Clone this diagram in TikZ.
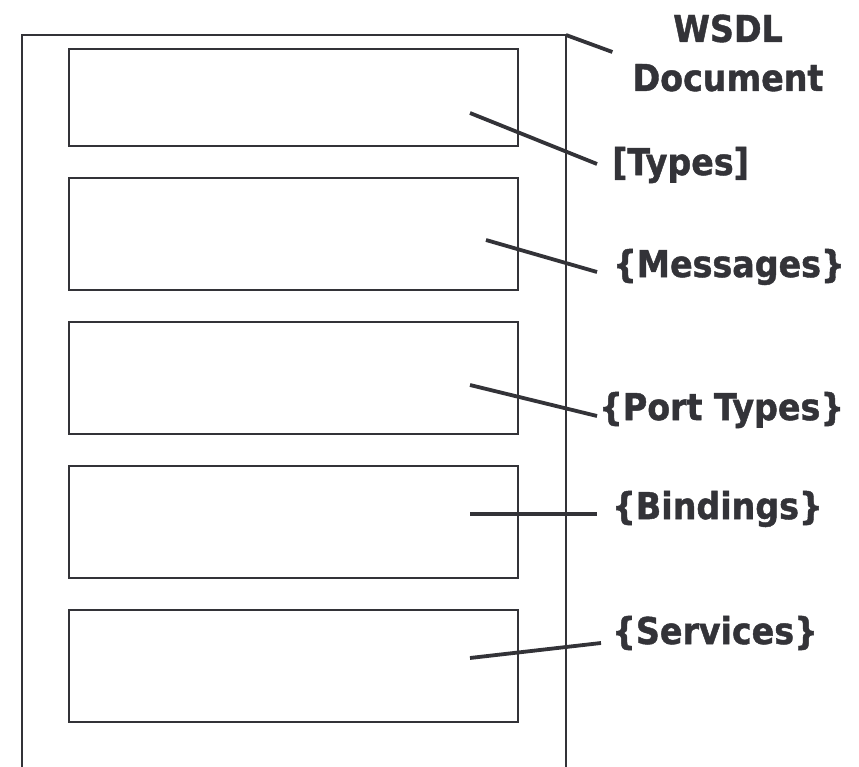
\documentclass[tikz,border=0pt]{standalone}
\usepackage{fontspec}
\setmainfont{DejaVu Sans Condensed}[BoldFeatures={FakeBold=1.2}]
\definecolor{ink}{HTML}{333338}
\tikzset{
  frame/.style={draw=ink,line width=2.4pt},
  part/.style={draw=ink,line width=2.4pt},
  pointer/.style={draw=ink,line width=3.8pt},
  lbl/.style={text=ink,font=\fontsize{37}{49}\selectfont\bfseries,inner sep=0pt,align=center}
}
\begin{document}
\begin{tikzpicture}[x=1pt,y=-1pt,line cap=butt,line join=miter]
    \useasboundingbox (0,0) rectangle (859,767);

    % document frame (open at the bottom)
    \draw[frame] (22,767) -- (22,35) -- (566,35) -- (566,767);
    \coordinate (corner) at (566,35);

    % inner parts
    \draw[part] (69,49) rectangle (518,146);
    \draw[part] (69,178) rectangle (518,290);
    \draw[part] (69,322) rectangle (518,434);
    \draw[part] (69,466) rectangle (518,578);
    \draw[part] (69,610) rectangle (518,722);

    % labels
    \node[lbl] (wsdl) at (728,53) {WSDL\\Document};
    \node[lbl,anchor=west] (types) at (612,165) {[Types]};
    \node[lbl,anchor=west] (messages) at (613,267) {\{Messages\}};
    \node[lbl,anchor=west] (porttypes) at (599,410) {\{Port Types\}};
    \node[lbl,anchor=west] (bindings) at (612,509) {\{Bindings\}};
    \node[lbl,anchor=west] (services) at (612,633) {\{Services\}};

    % pointer ends inside the parts
    \coordinate (typesin) at (470,113);
    \coordinate (messagesin) at (486,240);
    \coordinate (porttypesin) at (470,385);
    \coordinate (bindingsin) at (470,514);
    \coordinate (servicesin) at (470,658);

    % pointers
    \draw[pointer] (corner) -- ([shift={(-20,-1)}]wsdl.west);
    \draw[pointer] (typesin) -- ([shift={(-15,-1)}]types.west);
    \draw[pointer] (messagesin) -- ([shift={(-16,5)}]messages.west);
    \draw[pointer] (porttypesin) -- ([shift={(-2,6)}]porttypes.west);
    \draw[pointer] (bindingsin) -- ([shift={(-15,5)}]bindings.west);
    \draw[pointer] (servicesin) -- ([shift={(-11,10)}]services.west);
  \end{tikzpicture}
\end{document}
